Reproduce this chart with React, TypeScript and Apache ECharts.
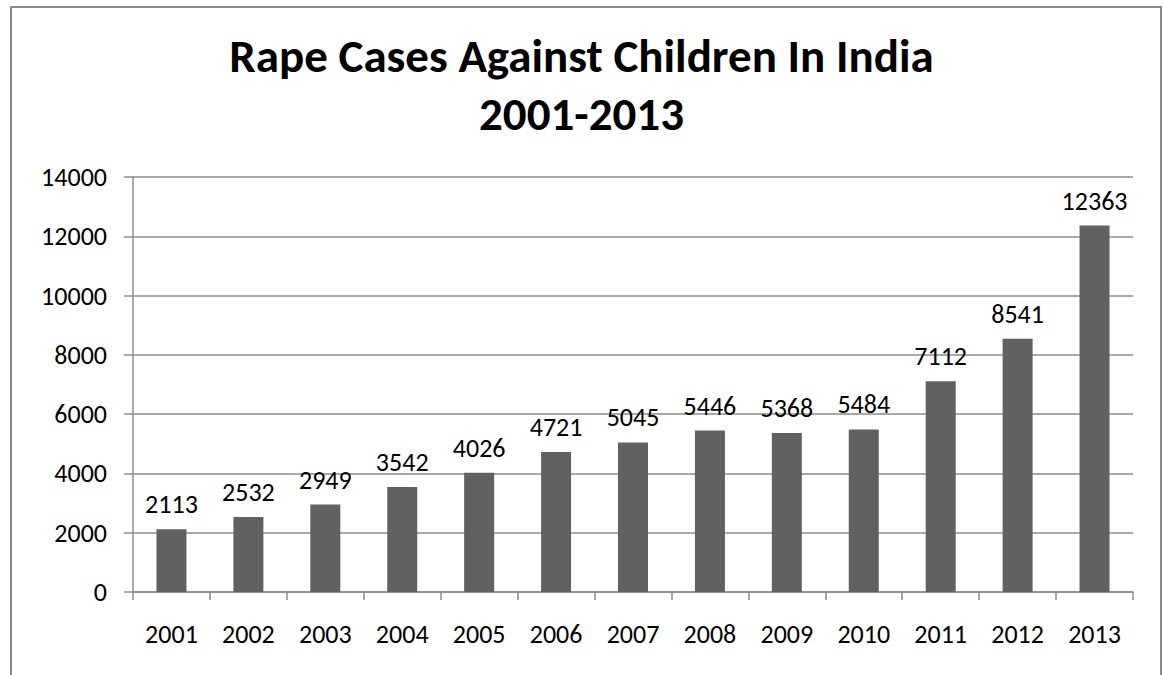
import React, { useEffect, useRef } from "react";
import * as echarts from "echarts";

const years = ["2001", "2002", "2003", "2004", "2005", "2006", "2007", "2008", "2009", "2010", "2011", "2012", "2013"];
const cases = [2113, 2532, 2949, 3542, 4026, 4721, 5045, 5446, 5368, 5484, 7112, 8541, 12363];
const titleLines = ["Rape Cases Against Children In India", "2001-2013"];

const FONT = "Carlito, Calibri, Lato, 'Open Sans', sans-serif";

export default function App() {
  const ref = useRef<HTMLDivElement>(null);
  useEffect(() => {
    const chart = echarts.init(ref.current!, null, { renderer: "svg" });
    chart.setOption({
      animation: false,
      backgroundColor: "#ffffff",
      textStyle: { fontFamily: FONT },
      title: {
        text: titleLines.join("\n"),
        left: "center",
        top: 22,
        textStyle: {
          fontFamily: FONT,
          fontSize: 47,
          fontWeight: "bold",
          color: "#000000",
          lineHeight: 58,
        },
      },
      graphic: [
        {
          type: "rect",
          shape: { x: 11, y: 7, width: 1150, height: 720 },
          style: { fill: "none", stroke: "#8a8a8a", lineWidth: 2 },
          silent: true,
        },
      ],
      grid: { left: 133, right: 30, top: 177, bottom: 83 },
      xAxis: {
        type: "category",
        data: years,
        boundaryGap: true,
        axisLine: { lineStyle: { color: "#8c8c8c", width: 1.5 } },
        axisTick: { show: true, length: 8, lineStyle: { color: "#8c8c8c", width: 1.5 } },
        axisLabel: { color: "#000000", fontSize: 26, margin: 29, fontFamily: FONT },
      },
      yAxis: {
        type: "value",
        min: 0,
        max: 14000,
        interval: 2000,
        axisLine: { show: true, lineStyle: { color: "#8c8c8c", width: 1.5 } },
        axisTick: { show: true, length: 9, lineStyle: { color: "#8c8c8c", width: 1.5 } },
        splitLine: { show: true, lineStyle: { color: "#8c8c8c", width: 1.5 } },
        axisLabel: {
          color: "#000000",
          fontSize: 26,
          margin: 26,
          fontFamily: FONT,
          formatter: (v: number) => String(v),
        },
      },
      series: [
        {
          type: "bar",
          data: cases,
          barWidth: 30,
          itemStyle: { color: "#616161" },
          label: {
            show: true,
            position: "top",
            distance: 12,
            color: "#000000",
            fontSize: 26,
            fontFamily: FONT,
          },
        },
      ],
    });
    return () => chart.dispose();
  }, []);
  return (
    <div
      ref={ref}
      style={{ position: "fixed", left: 0, top: 0, width: 1163, height: 675 }}
    />
  );
}
